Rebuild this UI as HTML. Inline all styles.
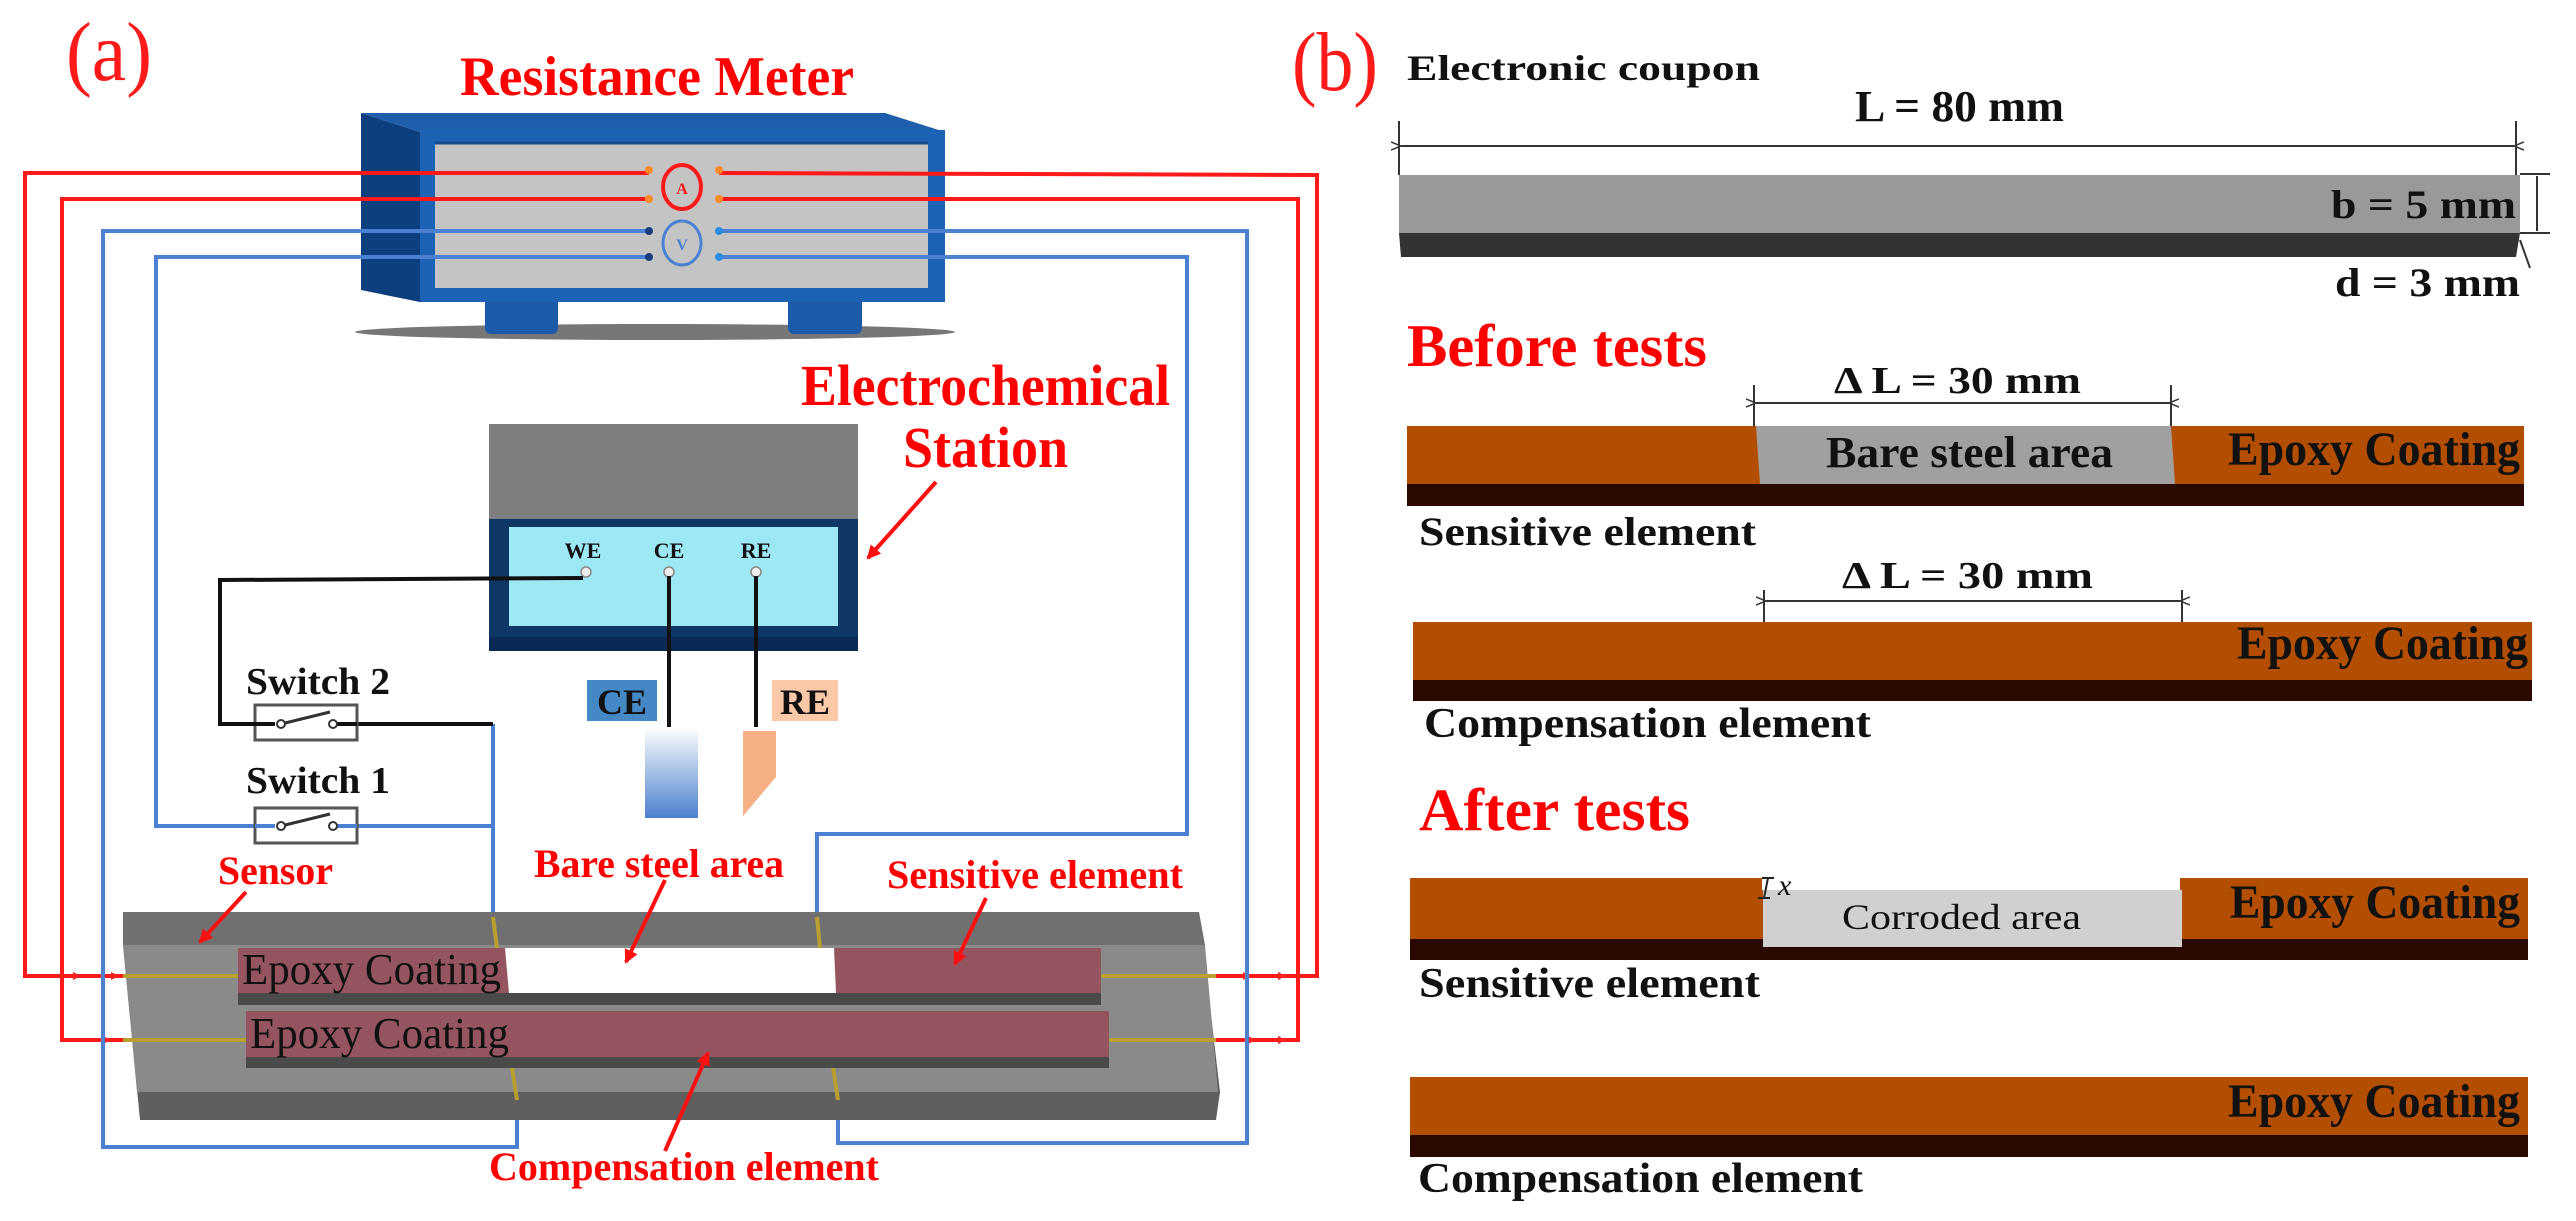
<!DOCTYPE html>
<html><head><meta charset="utf-8"><style>
html,body{margin:0;padding:0;background:#fff;}
svg{display:block;}
text{font-family:"Liberation Serif",serif;}
.b{font-weight:bold;}
</style></head><body>
<svg width="2576" height="1221" viewBox="0 0 2576 1221" xmlns="http://www.w3.org/2000/svg">
<defs>
<linearGradient id="ceg" x1="0" y1="0" x2="0" y2="1"><stop offset="0" stop-color="#ffffff"/><stop offset="1" stop-color="#4a80cc"/></linearGradient>
<marker id="ar" markerWidth="8" markerHeight="8" refX="7" refY="4" orient="auto" markerUnits="userSpaceOnUse"><path d="M0,0 L8,4 L0,8 z" fill="#ff2020"/></marker>
<marker id="arb" markerWidth="14" markerHeight="14" refX="12" refY="7" orient="auto" markerUnits="userSpaceOnUse"><path d="M0,0 L14,7 L0,14 z" fill="#ff1010"/></marker>
<marker id="dk" markerWidth="10" markerHeight="10" refX="0" refY="5" orient="auto-start-reverse" markerUnits="userSpaceOnUse"><path d="M10,1 L0,5 L10,9" fill="none" stroke="#333" stroke-width="1.5"/></marker>
</defs>

<!-- ===== Panel (a) ===== -->
<text x="66" y="80" font-size="84" fill="#ff1a1a" textLength="86" lengthAdjust="spacingAndGlyphs">(a)</text>
<text x="460" y="95" font-size="56" class="b" fill="#ff0000" textLength="394" lengthAdjust="spacingAndGlyphs">Resistance Meter</text>

<ellipse cx="655" cy="332" rx="300" ry="8" fill="#555" opacity="0.8"/>
<rect x="485" y="296" width="73" height="38" rx="6" fill="#1a5aa8"/>
<rect x="788" y="296" width="74" height="38" rx="6" fill="#1a5aa8"/>
<polygon points="361,113 885,113 945,132 420,132" fill="#1d5fab"/>
<polygon points="361,113 420,132 420,302 361,290" fill="#0d3f7e"/>
<rect x="420" y="130" width="525" height="172" fill="#1d63b5"/>
<rect x="435" y="142" width="493" height="146" fill="#c4c4c4"/>
<line x1="435" y1="143" x2="928" y2="143" stroke="#1a4d8f" stroke-width="3"/>

<g fill="none" stroke="#ff1a1a" stroke-width="4">
<polyline points="649,173 25,173 25,976 123,976"/>
<polyline points="649,199 62,199 62,1040 123,1040"/>
<polyline points="719,173 1317,175 1317,976 1216,976"/>
<polyline points="719,199 1298,199 1298,1040 1216,1040"/>
</g>
<g stroke="#ff1a1a" stroke-width="3">
<line x1="60" y1="976" x2="80" y2="976" marker-end="url(#ar)"/>
<line x1="100" y1="976" x2="118" y2="976" marker-end="url(#ar)"/>
<line x1="90" y1="1040" x2="110" y2="1040" marker-end="url(#ar)"/>
<line x1="1230" y1="976" x2="1250" y2="976" marker-end="url(#ar)"/>
<line x1="1265" y1="976" x2="1285" y2="976" marker-end="url(#ar)"/>
<line x1="1235" y1="1040" x2="1255" y2="1040" marker-end="url(#ar)"/>
<line x1="1265" y1="1040" x2="1285" y2="1040" marker-end="url(#ar)"/>
</g>
<g fill="none" stroke="#4b80d2" stroke-width="4">
<polyline points="649,231 103,231 103,1147 517,1147 517,1069"/>
<polyline points="649,257 156,257 156,826 493,826"/>
<polyline points="719,231 1247,231 1247,1143 838,1143 838,1069"/>
<polyline points="719,257 1187,257 1187,834 817,834 817,917"/>
<polyline points="493,724 493,917"/>
</g>
<ellipse cx="682" cy="187" rx="19" ry="22" fill="#c4c4c4" stroke="#ff1a1a" stroke-width="4"/>
<text x="682" y="194" font-size="16" text-anchor="middle" fill="#ff1a1a" class="b">A</text>
<ellipse cx="682" cy="243" rx="19" ry="22" fill="#c4c4c4" stroke="#4b80d2" stroke-width="3"/>
<text x="682" y="250" font-size="16" text-anchor="middle" fill="#4b80d2" class="b">V</text>
<g fill="#ff8a2a"><circle cx="649" cy="170" r="4"/><circle cx="649" cy="199" r="4"/><circle cx="719" cy="170" r="4"/><circle cx="719" cy="199" r="4"/></g>
<g fill="#1a3d7a"><circle cx="649" cy="231" r="4"/><circle cx="649" cy="257" r="4"/></g>
<g fill="#2a8ce0"><circle cx="719" cy="231" r="4"/><circle cx="719" cy="257" r="4"/></g>

<text x="801" y="405" font-size="58" class="b" fill="#ff0000" textLength="369" lengthAdjust="spacingAndGlyphs">Electrochemical</text>
<text x="903" y="467" font-size="58" class="b" fill="#ff0000" textLength="165" lengthAdjust="spacingAndGlyphs">Station</text>
<line x1="936" y1="482" x2="868" y2="558" stroke="#ff1010" stroke-width="4" marker-end="url(#arb)"/>
<rect x="489" y="424" width="369" height="97" fill="#7f7f7f"/>
<rect x="489" y="519" width="369" height="132" fill="#0e3766"/>
<rect x="489" y="637" width="369" height="14" fill="#0a2a55"/>
<rect x="509" y="527" width="329" height="99" fill="#9de8f5"/>
<g class="b" font-size="22" fill="#111" text-anchor="middle">
<text x="583" y="558">WE</text><text x="669" y="558">CE</text><text x="756" y="558">RE</text></g>
<g fill="#eee" stroke="#888" stroke-width="1.5"><circle cx="586" cy="572" r="5"/><circle cx="669" cy="572" r="5"/><circle cx="756" cy="572" r="5"/></g>
<g fill="none" stroke="#111" stroke-width="4">
<polyline points="583,578 220,580 220,724 493,724"/>
<line x1="669" y1="576" x2="669" y2="727"/>
<line x1="756" y1="576" x2="756" y2="727"/>
</g>
<rect x="587" y="680" width="70" height="41" fill="#4488c6"/>
<text x="622" y="714" font-size="36" class="b" text-anchor="middle" fill="#111" textLength="50" lengthAdjust="spacingAndGlyphs">CE</text>
<rect x="772" y="680" width="66" height="41" fill="#fbc9a8"/>
<text x="805" y="714" font-size="36" class="b" text-anchor="middle" fill="#111" textLength="50" lengthAdjust="spacingAndGlyphs">RE</text>
<rect x="645" y="727" width="53" height="91" fill="url(#ceg)"/>
<polygon points="743,731 776,731 776,777 743,816" fill="#f7b085"/>

<text x="246" y="694" font-size="38" class="b" fill="#111" textLength="144" lengthAdjust="spacingAndGlyphs">Switch 2</text>
<rect x="255" y="705" width="102" height="35" fill="#fff" stroke="#555" stroke-width="3"/>
<line x1="220" y1="724" x2="275" y2="724" stroke="#111" stroke-width="4"/>
<line x1="337" y1="724" x2="357" y2="724" stroke="#111" stroke-width="4"/>
<line x1="281" y1="724" x2="330" y2="712" stroke="#333" stroke-width="3"/>
<circle cx="281" cy="724" r="4" fill="#fff" stroke="#333" stroke-width="2"/><circle cx="333" cy="724" r="4" fill="#fff" stroke="#333" stroke-width="2"/>
<text x="246" y="793" font-size="38" class="b" fill="#111" textLength="144" lengthAdjust="spacingAndGlyphs">Switch 1</text>
<rect x="255" y="808" width="102" height="35" fill="#fff" stroke="#555" stroke-width="3"/>
<line x1="255" y1="826" x2="275" y2="826" stroke="#4b80d2" stroke-width="4"/>
<line x1="337" y1="826" x2="357" y2="826" stroke="#4b80d2" stroke-width="4"/>
<line x1="281" y1="826" x2="330" y2="814" stroke="#333" stroke-width="3"/>
<circle cx="281" cy="826" r="4" fill="#fff" stroke="#333" stroke-width="2"/><circle cx="333" cy="826" r="4" fill="#fff" stroke="#333" stroke-width="2"/>

<polygon points="123,912 1199,912 1220,1092 1216,1120 140,1120 123,945" fill="#5f5f5f"/>
<polygon points="123,945 1205,945 1218,1092 137,1092" fill="#8a8a8a"/>
<polygon points="123,912 1199,912 1205,945 123,945" fill="#707070"/>
<g stroke="#b8a030" stroke-width="4">
<line x1="123" y1="976" x2="238" y2="976"/><line x1="1101" y1="976" x2="1216" y2="976"/>
<line x1="123" y1="1040" x2="246" y2="1040"/><line x1="1109" y1="1040" x2="1216" y2="1040"/>
<line x1="493" y1="917" x2="497" y2="948"/><line x1="817" y1="917" x2="820" y2="948"/>
<line x1="512" y1="1067" x2="517" y2="1100"/><line x1="833" y1="1067" x2="838" y2="1100"/>
</g>
<rect x="238" y="990" width="863" height="15" fill="#4a4a4a"/>
<rect x="238" y="948" width="863" height="45" fill="#955560"/>
<polygon points="505,948 834,948 836,993 509,993" fill="#ffffff"/>
<rect x="246" y="1055" width="863" height="13" fill="#4a4a4a"/>
<rect x="246" y="1011" width="863" height="46" fill="#955560"/>
<text x="242" y="984" font-size="44" fill="#111" textLength="259" lengthAdjust="spacingAndGlyphs">Epoxy Coating</text>
<text x="250" y="1048" font-size="44" fill="#111" textLength="259" lengthAdjust="spacingAndGlyphs">Epoxy Coating</text>

<g class="b" fill="#ff0000" font-size="40">
<text x="218" y="884" textLength="115" lengthAdjust="spacingAndGlyphs">Sensor</text>
<text x="534" y="877" textLength="250" lengthAdjust="spacingAndGlyphs">Bare steel area</text>
<text x="887" y="888" textLength="296" lengthAdjust="spacingAndGlyphs">Sensitive element</text>
<text x="489" y="1180" textLength="390" lengthAdjust="spacingAndGlyphs">Compensation element</text>
</g>
<g stroke="#ff1010" stroke-width="4">
<line x1="246" y1="892" x2="200" y2="942" marker-end="url(#arb)"/>
<line x1="665" y1="880" x2="626" y2="962" marker-end="url(#arb)"/>
<line x1="986" y1="898" x2="955" y2="964" marker-end="url(#arb)"/>
<line x1="665" y1="1151" x2="708" y2="1053" marker-end="url(#arb)"/>
</g>

<!-- ===== Panel (b) ===== -->
<text x="1292" y="90" font-size="84" fill="#ff1a1a" textLength="86" lengthAdjust="spacingAndGlyphs">(b)</text>
<g class="b" fill="#111">
<text x="1407" y="80" font-size="36" textLength="353" lengthAdjust="spacingAndGlyphs">Electronic coupon</text>
<text x="1855" y="121" font-size="44" textLength="209" lengthAdjust="spacingAndGlyphs">L = 80 mm</text>
</g>
<g stroke="#333" stroke-width="2" fill="none">
<line x1="1399" y1="121" x2="1399" y2="175"/><line x1="2516" y1="121" x2="2516" y2="175"/>
<line x1="1401" y1="146" x2="2514" y2="146" marker-start="url(#dk)" marker-end="url(#dk)"/>
</g>
<rect x="1399" y="175" width="1121" height="58" fill="#999999"/>
<polygon points="1399,233 2520,233 2516,257 1401,257" fill="#333333"/>
<g stroke="#333" stroke-width="2" fill="none">
<line x1="2520" y1="174" x2="2550" y2="174"/><line x1="2520" y1="233" x2="2550" y2="233"/>
<line x1="2537" y1="176" x2="2537" y2="231"/><line x1="2520" y1="240" x2="2530" y2="268"/>
</g>
<g class="b" fill="#111" font-size="40">
<text x="2331" y="218" textLength="185" lengthAdjust="spacingAndGlyphs">b = 5 mm</text>
<text x="2335" y="296" textLength="185" lengthAdjust="spacingAndGlyphs">d = 3 mm</text>
</g>
<text x="1407" y="366" font-size="60" class="b" fill="#ff0000" textLength="300" lengthAdjust="spacingAndGlyphs">Before tests</text>
<text x="1834" y="393" font-size="38" class="b" fill="#111" textLength="247" lengthAdjust="spacingAndGlyphs">Δ L = 30 mm</text>
<g stroke="#333" stroke-width="2" fill="none">
<line x1="1754" y1="385" x2="1754" y2="426"/><line x1="2171" y1="385" x2="2171" y2="426"/>
<line x1="1756" y1="403" x2="2169" y2="403" marker-start="url(#dk)" marker-end="url(#dk)"/>
</g>
<rect x="1407" y="426" width="1117" height="60" fill="#b34e00"/>
<rect x="1407" y="484" width="1117" height="22" fill="#2a0a00"/>
<polygon points="1756,426 2171,426 2175,484 1760,484" fill="#a0a0a0"/>
<text x="1826" y="467" font-size="44" class="b" fill="#111" textLength="287" lengthAdjust="spacingAndGlyphs">Bare steel area</text>
<text x="2228" y="465" font-size="48" class="b" fill="#111" textLength="292" lengthAdjust="spacingAndGlyphs">Epoxy Coating</text>
<text x="1419" y="545" font-size="40" class="b" fill="#111" textLength="337" lengthAdjust="spacingAndGlyphs">Sensitive element</text>

<text x="1842" y="588" font-size="38" class="b" fill="#111" textLength="251" lengthAdjust="spacingAndGlyphs">Δ L = 30 mm</text>
<g stroke="#333" stroke-width="2" fill="none">
<line x1="1764" y1="590" x2="1764" y2="622"/><line x1="2182" y1="590" x2="2182" y2="622"/>
<line x1="1766" y1="601" x2="2180" y2="601" marker-start="url(#dk)" marker-end="url(#dk)"/>
</g>
<rect x="1413" y="622" width="1119" height="60" fill="#b34e00"/>
<rect x="1413" y="680" width="1119" height="21" fill="#2a0a00"/>
<text x="2237" y="659" font-size="48" class="b" fill="#111" textLength="291" lengthAdjust="spacingAndGlyphs">Epoxy Coating</text>
<text x="1424" y="737" font-size="42" class="b" fill="#111" textLength="447" lengthAdjust="spacingAndGlyphs">Compensation element</text>

<text x="1419" y="830" font-size="60" class="b" fill="#ff0000" textLength="271" lengthAdjust="spacingAndGlyphs">After tests</text>
<rect x="1410" y="878" width="1118" height="63" fill="#b34e00"/>
<rect x="1410" y="939" width="1118" height="21" fill="#2a0a00"/>
<rect x="1762" y="878" width="418" height="12" fill="#ffffff"/>
<rect x="1763" y="890" width="419" height="57" fill="#d0d0d0"/>
<text x="1842" y="929" font-size="36" fill="#111" textLength="239" lengthAdjust="spacingAndGlyphs">Corroded area</text>
<text x="2230" y="918" font-size="48" class="b" fill="#111" textLength="290" lengthAdjust="spacingAndGlyphs">Epoxy Coating</text>
<g stroke="#222" stroke-width="2"><line x1="1768" y1="878" x2="1764" y2="898"/><line x1="1762" y1="878" x2="1774" y2="878"/><line x1="1758" y1="898" x2="1770" y2="898"/></g>
<text x="1778" y="895" font-size="30" font-style="italic" fill="#111">x</text>
<text x="1419" y="997" font-size="42" class="b" fill="#111" textLength="341" lengthAdjust="spacingAndGlyphs">Sensitive element</text>

<rect x="1410" y="1077" width="1118" height="60" fill="#b34e00"/>
<rect x="1410" y="1135" width="1118" height="22" fill="#2a0a00"/>
<text x="2228" y="1117" font-size="48" class="b" fill="#111" textLength="292" lengthAdjust="spacingAndGlyphs">Epoxy Coating</text>
<text x="1418" y="1192" font-size="42" class="b" fill="#111" textLength="445" lengthAdjust="spacingAndGlyphs">Compensation element</text>
</svg>
</body></html>
